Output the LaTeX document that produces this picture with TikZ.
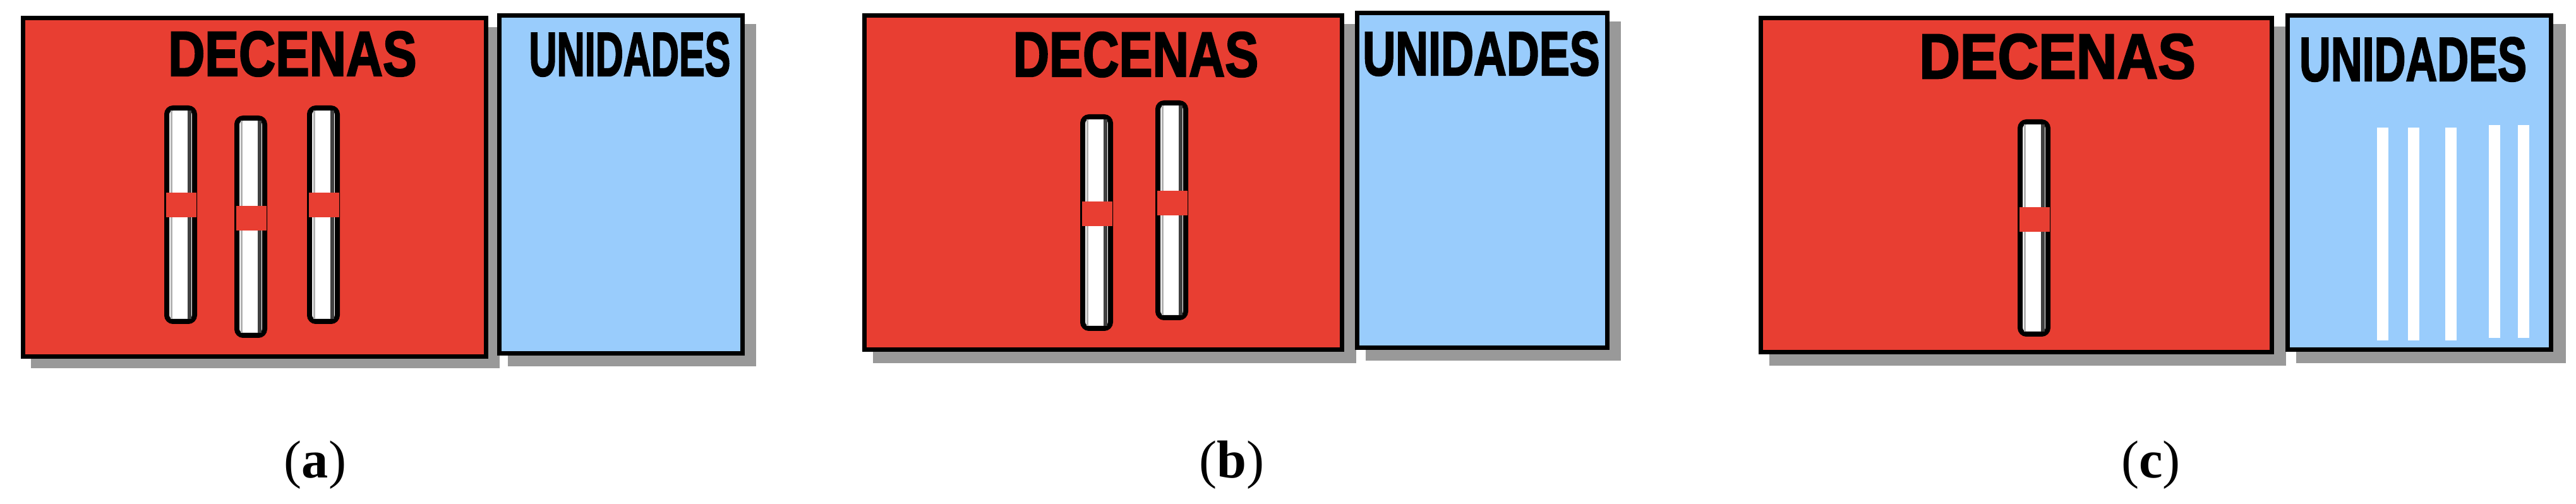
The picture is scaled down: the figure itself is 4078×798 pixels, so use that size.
\documentclass[tikz,border=0pt]{standalone}
\usepackage{fontspec}
\setmainfont{Liberation Serif}
\newfontfamily\titlefont[FakeBold=2.5]{Liberation Sans Bold}
\usetikzlibrary{positioning}

\definecolor{decred}{RGB}{232,62,50}
\definecolor{uniblue}{RGB}{153,204,252}
\definecolor{shadowgray}{RGB}{153,153,153}

% one ten-rod: left x, top y, bottom y, top of the red band
\newcommand{\decrod}[4]{%
  \draw[rodbody] (#1+4,#2+4) rectangle (#1+48,#3-4);
  \draw[line width=0.03cm, gray!60] (#1+11.5,#2+8) -- (#1+11.5,#3-8);
  \draw[line width=0.06cm, black!75] (#1+40,#2+8) -- (#1+40,#3-8);
  \fill[decred] (#1+3,#4) rectangle (#1+51,#4+39);
}

\begin{document}
\begin{tikzpicture}[
  x=0.01cm, y=-0.01cm,
  shadow/.style={fill=shadowgray},
  decbox/.style={line width=0.07cm, draw=black, fill=decred},
  unibox/.style={line width=0.07cm, draw=black, fill=uniblue},
  title/.style={anchor=base, inner sep=0pt, font=\titlefont\fontsize{28.6}{30}\selectfont},
  unititle/.style={anchor=base, inner sep=0pt, font=\titlefont\fontsize{28}{30}\selectfont},
  capt/.style={anchor=base, inner sep=0pt, font=\fontsize{24}{28}\selectfont},
  rodbody/.style={line width=0.08cm, draw=black, fill=white, rounded corners=0.1cm}
]
\useasboundingbox (0,0) rectangle (4078,798);

% Shadows
\fill[shadow] (49,43) rectangle (791,583);
\fill[shadow] (804,38) rectangle (1197,580);
\fill[shadow] (1382,38) rectangle (2147,575);
\fill[shadow] (2162,34) rectangle (2566,571);
\fill[shadow] (2801,42) rectangle (3619,579);
\fill[shadow] (3635,38) rectangle (4062,575);

% Panel (a)
\draw[decbox] (36.5,28.5) rectangle (769.5,564.5);
\draw[unibox] (790.5,24.5) rectangle (1175.5,559.5);
\node[title] (decA) at (463,120) {\scalebox{0.80}[1]{DECENAS}};
\node[unititle] (uniA) at (997,120) {\scalebox{0.62}[1]{UNIDADES}};
\decrod{260}{167}{513}{305}
\decrod{371}{183}{535}{326}
\decrod{486}{167}{513}{305}

% Panel (b)
\draw[decbox] (1368.5,24.5) rectangle (2124.5,553.5);
\draw[unibox] (2148.5,20.5) rectangle (2544.5,550.5);
\node[title] (decB) at (1798,121) {\scalebox{0.79}[1]{DECENAS}};
\node[unititle] (uniB) at (2345,119) {\scalebox{0.73}[1]{UNIDADES}};
\decrod{1710}{181}{524}{319}
\decrod{1829}{159}{507}{302}

% Panel (c)
\draw[decbox] (2787.5,28.5) rectangle (3596.5,557.5);
\draw[unibox] (3621.5,24.5) rectangle (4038.5,553.5);
\node[title] (decC) at (3257,124) {\scalebox{0.89}[1]{DECENAS}};
\node[unititle] (uniC) at (3820,128) {\scalebox{0.70}[1]{UNIDADES}};
\decrod{3194}{189}{533}{328}
\foreach \ux in {3763,3812,3871}
  \fill[white] (\ux,202) rectangle (\ux+18,539);
\foreach \ux in {3940,3986}
  \fill[white] (\ux,198) rectangle (\ux+18,535);

% Captions
\node[capt] (capA) at (499,757) {(\textbf{a})};
\node[capt] (capB) at (1950,757) {(\textbf{b})};
\node[capt] (capC) at (3405,757) {(\textbf{c})};

\end{tikzpicture}
\end{document}
